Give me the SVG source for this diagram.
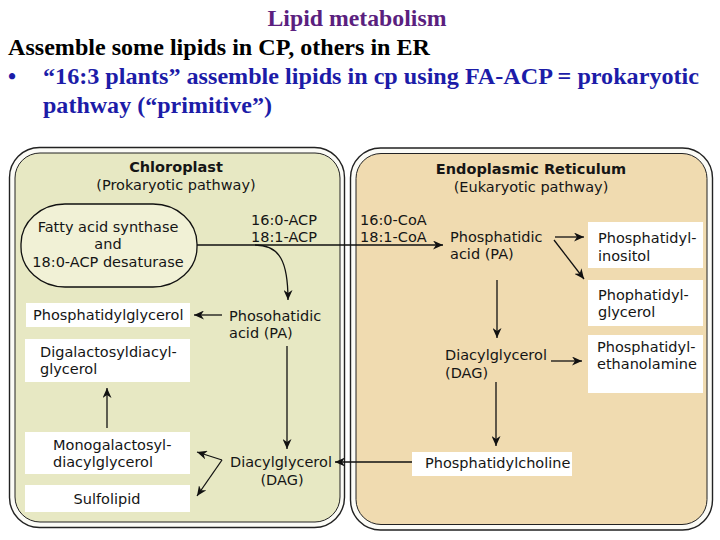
<svg xmlns="http://www.w3.org/2000/svg" width="720" height="540" viewBox="0 0 720 540">
<style>
.hd{font-family:"Liberation Serif","Times New Roman",serif;font-weight:bold;font-size:23px}
.t{font-family:"DejaVu Sans","Open Sans",sans-serif;font-size:14.5px;fill:#151515}
.b{font-weight:bold}
.c{text-anchor:middle}
.e{text-anchor:end}
.box{fill:#ffffff}
.ln{fill:none;stroke:#111;stroke-width:1.3}
.outer{fill:#fbfbf6;stroke:#222;stroke-width:1.4}
</style>
<defs>
<marker id="ah" markerUnits="userSpaceOnUse" markerWidth="11" markerHeight="9" refX="10" refY="4.5" orient="auto">
<path d="M0,0 L10,4.5 L0,9 L3,4.5 Z" fill="#111"/>
</marker>
</defs>
<rect width="720" height="540" fill="#ffffff"/>
<g id="header">
<text class="hd c" x="357" y="26" fill="#5b1f7f" textLength="179" lengthAdjust="spacingAndGlyphs">Lipid metabolism</text>
<text class="hd" x="8" y="55" fill="#000" textLength="422" lengthAdjust="spacingAndGlyphs">Assemble some lipids in CP, others in ER</text>
<text class="hd" x="8" y="84" fill="#1c1ca8">•</text>
<text class="hd" x="43" y="84" fill="#1c1ca8" textLength="656" lengthAdjust="spacingAndGlyphs">“16:3 plants” assemble lipids in cp using FA-ACP = prokaryotic</text>
<text class="hd" x="43" y="113" fill="#1c1ca8" textLength="229" lengthAdjust="spacingAndGlyphs">pathway (“primitive”)</text>
</g>
<g id="chloroplast">
<rect class="outer" x="9.5" y="147.5" width="335" height="380" rx="30"/>
<rect x="15" y="153" width="325" height="369" rx="25" fill="#e7e8c3" stroke="#222" stroke-width="1"/>
<text class="t b c" x="176" y="172">Chloroplast</text>
<text class="t c" x="176" y="190">(Prokaryotic pathway)</text>
</g>
<g id="er">
<rect class="outer" x="350.5" y="148" width="362" height="382" rx="30"/>
<rect x="356" y="153.5" width="351" height="371" rx="25" fill="#f0dbb0" stroke="#222" stroke-width="1"/>
<text class="t b c" x="531" y="174">Endoplasmic Reticulum</text>
<text class="t c" x="531" y="192">(Eukaryotic pathway)</text>
</g>
<g id="fas">
<rect x="21" y="204" width="176" height="83" rx="44" ry="40" fill="#f1f1d6" stroke="#111" stroke-width="1.3"/>
<text class="t c" x="108" y="232">Fatty acid synthase</text>
<text class="t c" x="108" y="249">and</text>
<text class="t c" x="108" y="267">18:0-ACP desaturase</text>
</g>
<g id="acp">
<text class="t e" x="317" y="225">16:0-ACP</text>
<text class="t e" x="317" y="242">18:1-ACP</text>
</g>
<g id="coa">
<text class="t" x="360" y="225">16:0-CoA</text>
<text class="t" x="360" y="242">18:1-CoA</text>
</g>
<g id="cp-pg">
<rect class="box" x="26" y="303" width="164" height="24"/>
<text class="t" x="33" y="320">Phosphatidylglycerol</text>
</g>
<g id="cp-pa">
<text class="t" x="229" y="321">Phosohatidic</text>
<text class="t" x="229" y="338">acid (PA)</text>
</g>
<g id="cp-dgdg">
<rect class="box" x="25" y="339" width="165" height="43"/>
<text class="t" x="40" y="357">Digalactosyldiacyl-</text>
<text class="t" x="40" y="374">glycerol</text>
</g>
<g id="cp-mgdg">
<rect class="box" x="25" y="432" width="165" height="42"/>
<text class="t" x="53" y="450">Monogalactosyl-</text>
<text class="t" x="53" y="467">diacylglycerol</text>
</g>
<g id="cp-sl">
<rect class="box" x="25" y="485" width="165" height="27"/>
<text class="t c" x="107" y="504">Sulfolipid</text>
</g>
<g id="cp-dag">
<text class="t" x="230" y="467">Diacylglycerol</text>
<text class="t c" x="282" y="485">(DAG)</text>
</g>
<g id="er-pa">
<text class="t" x="450" y="242">Phosphatidic</text>
<text class="t" x="450" y="259">acid (PA)</text>
</g>
<g id="er-pi">
<rect class="box" x="588" y="222" width="115" height="46"/>
<text class="t" x="598" y="243">Phosphatidyl-</text>
<text class="t" x="598" y="261">inositol</text>
</g>
<g id="er-pg">
<rect class="box" x="588" y="280" width="115" height="46"/>
<text class="t" x="598" y="300">Phophatidyl-</text>
<text class="t" x="598" y="317">glycerol</text>
</g>
<g id="er-dag">
<text class="t" x="445" y="360">Diacylglycerol</text>
<text class="t" x="445" y="378">(DAG)</text>
</g>
<g id="er-pe">
<rect class="box" x="588" y="335" width="115" height="58"/>
<text class="t" x="597" y="352">Phosphatidyl-</text>
<text class="t" x="597" y="369">ethanolamine</text>
</g>
<g id="er-pc">
<rect class="box" x="412" y="452" width="160" height="24"/>
<text class="t" x="425" y="468">Phosphatidylcholine</text>
</g>
<g id="connectors">
<path class="ln" d="M197,245 L443,245" marker-end="url(#ah)"/>
<path class="ln" d="M255,245 C280,245 288,262 288,300" marker-end="url(#ah)"/>
<path class="ln" d="M222,315 L194,315" marker-end="url(#ah)"/>
<path class="ln" d="M287,346 L287,449" marker-end="url(#ah)"/>
<path class="ln" d="M412,462 L335,462" marker-end="url(#ah)"/>
<path class="ln" d="M222,460 L197,452" marker-end="url(#ah)"/>
<path class="ln" d="M222,460 L197,496" marker-end="url(#ah)"/>
<path class="ln" d="M107,428 L107,388" marker-end="url(#ah)"/>
<path class="ln" d="M555,237 L584,237" marker-end="url(#ah)"/>
<path class="ln" d="M554,240 L584,279" marker-end="url(#ah)"/>
<path class="ln" d="M497,280 L497,338" marker-end="url(#ah)"/>
<path class="ln" d="M551,361 L582,361" marker-end="url(#ah)"/>
<path class="ln" d="M496,382 L496,446" marker-end="url(#ah)"/>
</g>
</svg>
